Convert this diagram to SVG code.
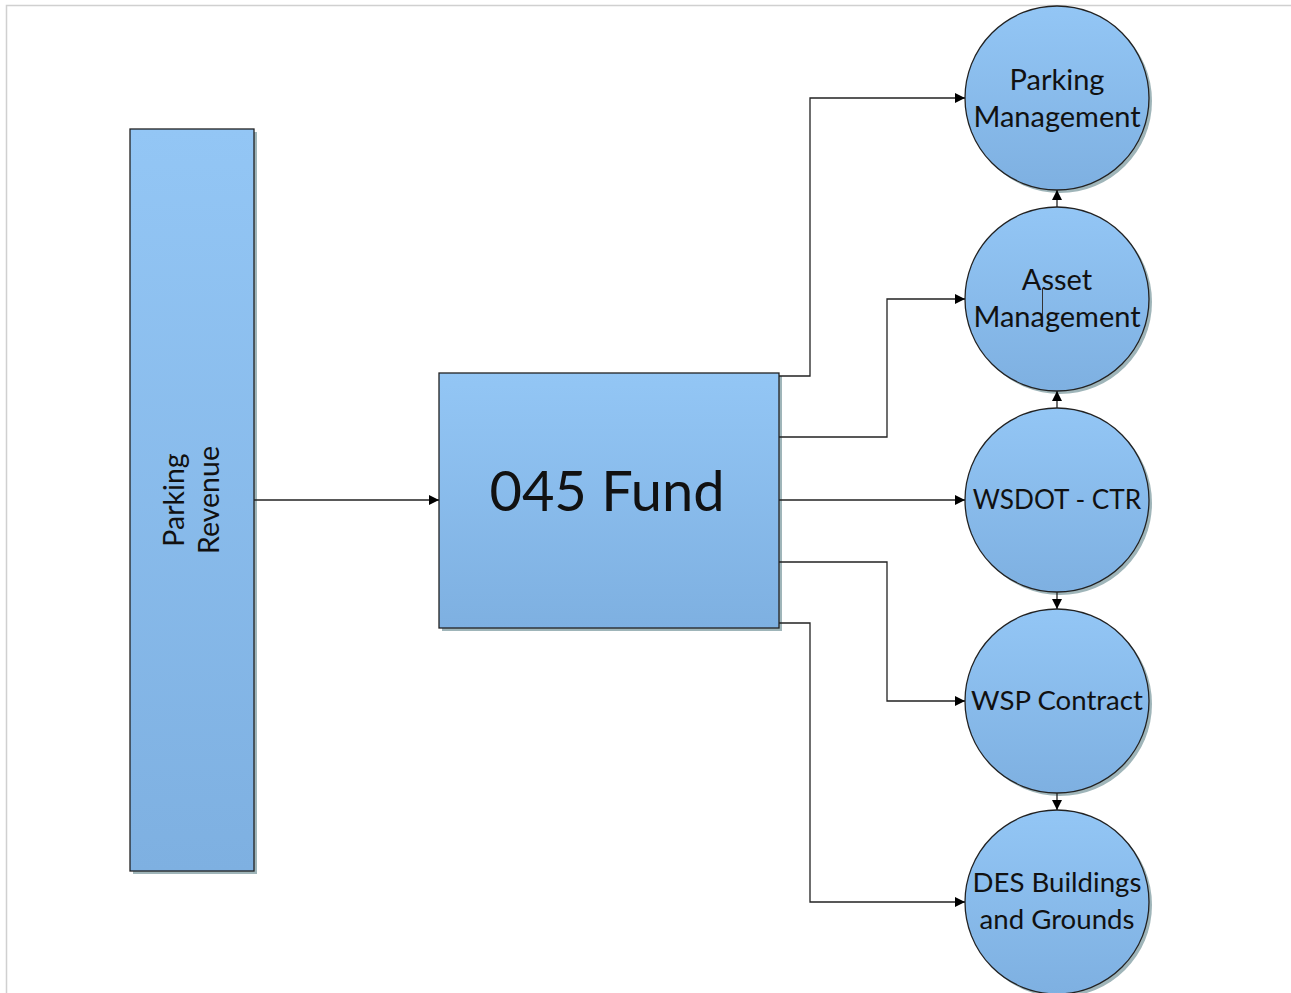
<svg xmlns="http://www.w3.org/2000/svg" width="1291" height="993" viewBox="0 0 1291 993">
<defs>
<linearGradient id="g" x1="0" y1="0" x2="0" y2="1">
<stop offset="0" stop-color="#93c6f5"/>
<stop offset="1" stop-color="#7eb0e1"/>
</linearGradient>
<marker id="ah" markerWidth="12" markerHeight="12" refX="10" refY="6" orient="auto" markerUnits="userSpaceOnUse">
<path d="M0,1 L10,6 L0,11 Z" fill="#000"/>
</marker>
</defs>
<style>
.box{fill:url(#g);stroke:#222;stroke-width:1.3}
.sh{fill:#9fb5b9}
.t{font-family:Lato,"Open Sans","Liberation Sans",sans-serif;fill:#111;text-anchor:middle}
.c{fill:none;stroke:#222;stroke-width:1.3}
.ca{fill:none;stroke:#222;stroke-width:1.3;marker-end:url(#ah)}
</style>
<rect x="0" y="0" width="1291" height="993" fill="#fff"/>
<path d="M6.5,993 V5.5 H1291" fill="none" stroke="#d0d0d0" stroke-width="1.5"/>
<g id="parking-revenue">
<rect class="sh" x="133" y="132" width="124" height="742"/>
<rect class="box" x="130" y="129" width="124" height="742"/>
<text class="t" font-size="28.5" transform="translate(192,500) rotate(-90)"><tspan x="0" y="-8">Parking</tspan><tspan x="0" y="27">Revenue</tspan></text>
</g>
<g id="fund-045">
<rect class="sh" x="442" y="376" width="340" height="255"/>
<rect class="box" x="439" y="373" width="340" height="255"/>
<text class="t" font-size="56" x="607" y="511">045 Fund</text>
</g>
<g id="parking-management">
<circle class="sh" cx="1060" cy="101" r="92"/>
<circle class="box" cx="1057" cy="98" r="92"/>
<text class="t" font-size="29"><tspan x="1057" y="90">Parking</tspan><tspan x="1057" y="127">Management</tspan></text>
</g>
<g id="asset-management">
<circle class="sh" cx="1060" cy="302" r="92"/>
<circle class="box" cx="1057" cy="299" r="92"/>
<text class="t" font-size="29"><tspan x="1057" y="290">Asset</tspan><tspan x="1057" y="327">Management</tspan></text>
<line x1="1042.5" y1="288" x2="1042.5" y2="316" stroke="#333" stroke-width="1"/>
</g>
<g id="wsdot-ctr">
<circle class="sh" cx="1060" cy="503" r="92"/>
<circle class="box" cx="1057" cy="500" r="92"/>
<text class="t" font-size="26.2" x="1057" y="509">WSDOT - CTR</text>
</g>
<g id="wsp-contract">
<circle class="sh" cx="1060" cy="704" r="92"/>
<circle class="box" cx="1057" cy="701" r="92"/>
<text class="t" font-size="27.6" x="1057" y="710">WSP Contract</text>
</g>
<g id="des-buildings">
<circle class="sh" cx="1060" cy="905" r="92"/>
<circle class="box" cx="1057" cy="902" r="92"/>
<text class="t" font-size="27.6"><tspan x="1057" y="892">DES Buildings</tspan><tspan x="1057" y="929">and Grounds</tspan></text>
</g>
<g id="connectors">
<path class="ca" d="M254,500 H439"/>
<path class="ca" d="M779,376 H810 V98 H965"/>
<path class="ca" d="M779,437 H887 V299 H965"/>
<path class="ca" d="M779,500 H965"/>
<path class="ca" d="M779,562 H887 V701 H965"/>
<path class="ca" d="M779,623 H810 V902 H965"/>
<path class="ca" d="M1057,207 V190"/>
<path class="ca" d="M1057,408 V391"/>
<path class="ca" d="M1057,592 V609"/>
<path class="ca" d="M1057,793 V810"/>
</g>
</svg>
